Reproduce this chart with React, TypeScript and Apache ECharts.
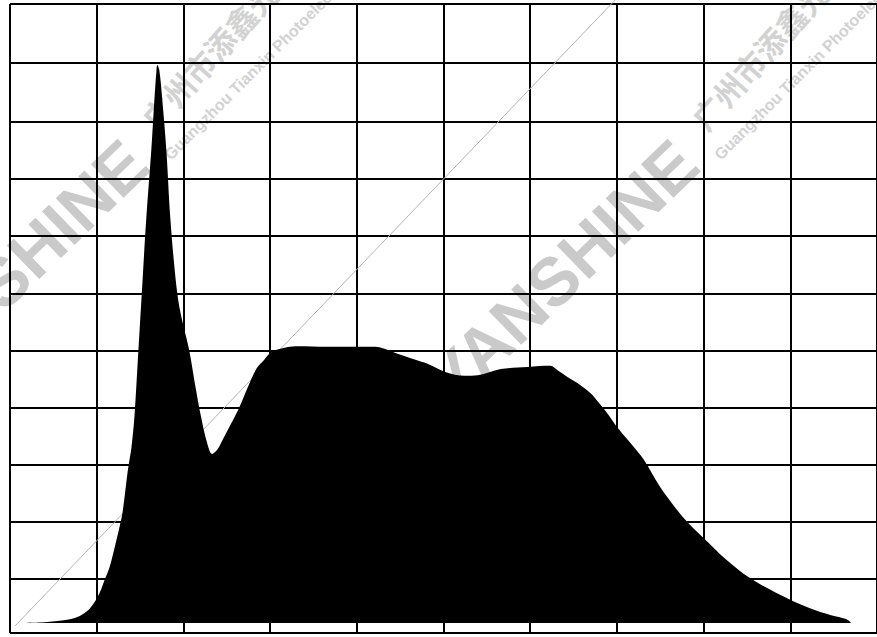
import { useEffect, useRef } from "react";
import * as echarts from "echarts";

// Spectrum outline: x in grid divisions, y normalised intensity (peak = 1)
const spectrumX = [
  0.057, 0.344, 0.574, 0.746, 0.861, 0.941, 1.033, 1.091, 1.148, 1.205, 1.263, 1.297,
  1.355, 1.378, 1.401, 1.435, 1.481, 1.527, 1.573, 1.63, 1.665, 1.688, 1.699, 1.722,
  1.757, 1.803, 1.848, 1.894, 1.94, 1.998, 2.067, 2.135, 2.204, 2.273, 2.331, 2.388,
  2.468, 2.549, 2.641, 2.755, 2.847, 2.928, 3.02, 3.157, 3.295, 3.674, 4.018, 4.214,
  4.328, 4.478, 4.65, 4.822, 5.017, 5.247, 5.396, 5.66, 5.97, 6.234, 6.315, 6.429,
  6.544, 6.693, 6.774, 6.889, 7.003, 7.176, 7.313, 7.497, 7.692, 7.842, 8.002, 8.266,
  8.53, 8.84, 9.219, 9.472, 9.644, 9.702,
];
const spectrumY = [
  0, 0.001, 0.004, 0.009, 0.018, 0.03, 0.054, 0.077, 0.1, 0.134, 0.172, 0.197,
  0.269, 0.292, 0.315, 0.369, 0.489, 0.609, 0.728, 0.848, 0.937, 0.987, 1.0, 0.991,
  0.937, 0.848, 0.728, 0.642, 0.579, 0.534, 0.489, 0.427, 0.369, 0.323, 0.303, 0.31,
  0.333, 0.357, 0.385, 0.427, 0.457, 0.471, 0.486, 0.493, 0.496, 0.495, 0.495, 0.495,
  0.491, 0.482, 0.473, 0.464, 0.45, 0.443, 0.444, 0.455, 0.459, 0.461, 0.453, 0.441,
  0.43, 0.412, 0.398, 0.376, 0.351, 0.319, 0.292, 0.244, 0.203, 0.176, 0.152, 0.113,
  0.081, 0.054, 0.027, 0.014, 0.007, 0,
];

// Horizontal grid line positions (same units as spectrumY)
const gridLinesY = [
  -0.0179, 0.0789, 0.181, 0.2832, 0.3853, 0.4875, 0.5896, 0.6935, 0.7957, 0.8978, 1.0036, 1.1093,
];

// Thin grey diagonal reference line
const diagonalX = [0.057, 6.98];
const diagonalY = [-0.0054, 1.1165];

const watermarkBrand = "YANSHINE";
const watermarkCn = "广州市添鑫光电";
const watermarkEn = "Guangzhou Tianxin Photoelectric";

export default function App() {
  const ref = useRef<HTMLDivElement>(null);

  useEffect(() => {
    document.body.style.margin = "0";
    const chart = echarts.init(ref.current!, null, { renderer: "svg" });
    const deg = Math.PI / 180;
    const wm: any[] = [];
    const offsets = [0, 550];
    offsets.forEach((dx) => {
      wm.push({
        type: "text",
        x: -112 + dx,
        y: 392,
        rotation: 44 * deg,
        z: -10,
        style: {
          text: watermarkBrand,
          font: "bold 68px 'Liberation Sans', Arial, sans-serif",
          fill: "#cacaca",
          align: "left",
          verticalAlign: "middle",
        },
      });
      wm.push({
        type: "text",
        x: 147 + dx,
        y: 124,
        rotation: 48 * deg,
        z: -10,
        style: {
          text: watermarkCn,
          font: "bold 31px 'Noto Sans CJK SC', sans-serif",
          fill: "#d2d2d2",
          align: "left",
          verticalAlign: "middle",
        },
      });
      wm.push({
        type: "text",
        x: 167 + dx,
        y: 157,
        rotation: 45 * deg,
        z: -10,
        style: {
          text: watermarkEn,
          font: "bold 16px 'Liberation Sans', Arial, sans-serif",
          fill: "#d2d2d2",
          align: "left",
          verticalAlign: "middle",
        },
      });
    });

    chart.setOption({
      animation: false,
      grid: { left: 10, top: 4, width: 871, height: 629 },
      xAxis: {
        type: "value",
        min: 0,
        max: 10,
        interval: 1,
        axisLine: { show: false },
        axisTick: { show: false },
        axisLabel: { show: false },
        splitLine: { show: true, lineStyle: { color: "#000", width: 2 } },
      },
      yAxis: {
        type: "value",
        min: gridLinesY[0],
        max: gridLinesY[gridLinesY.length - 1],
        axisLine: { show: false },
        axisTick: { show: false, customValues: gridLinesY },
        axisLabel: { show: false, customValues: gridLinesY },
        splitLine: { show: true, lineStyle: { color: "#000", width: 2 } },
      },
      series: [
        {
          type: "line",
          data: diagonalX.map((x, i) => [x, diagonalY[i]]),
          symbol: "none",
          clip: false,
          z: 1,
          lineStyle: { color: "#b4b4b4", width: 1 },
        },
        {
          type: "line",
          data: spectrumX.map((x, i) => [x, spectrumY[i]]),
          symbol: "none",
          smooth: 0.35,
          z: 3,
          lineStyle: { width: 0 },
          areaStyle: { color: "#000", opacity: 1 },
        },
      ],
      graphic: wm,
    });
    return () => chart.dispose();
  }, []);

  return <div ref={ref} style={{ width: 877, height: 637 }} />;
}
